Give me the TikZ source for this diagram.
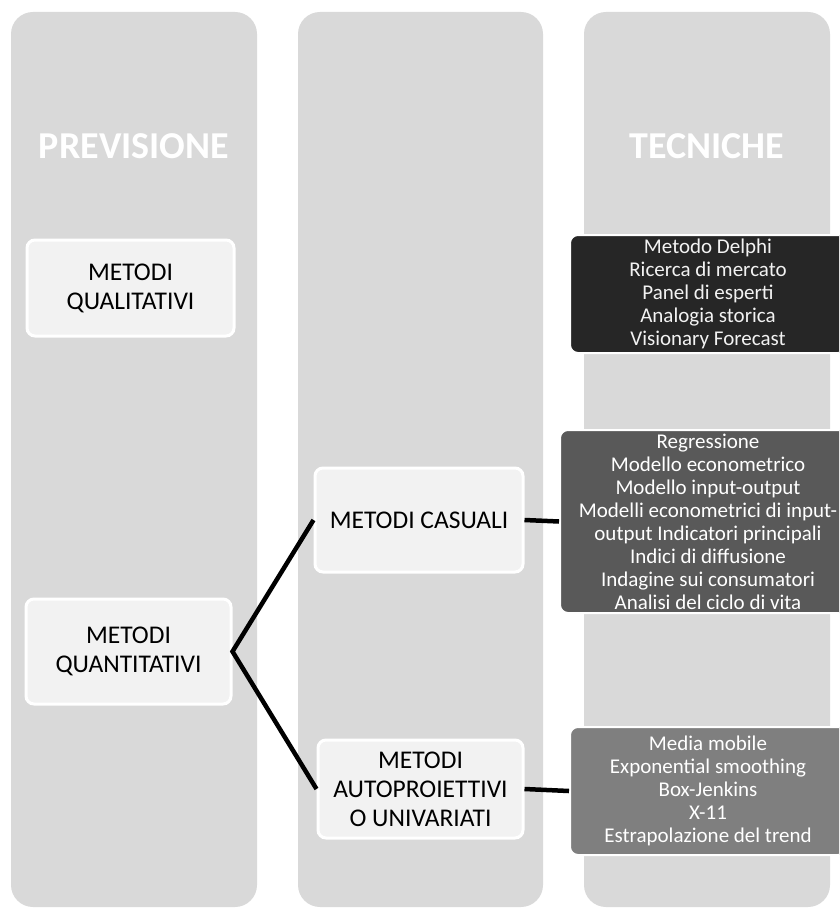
\documentclass[tikz,border=0pt]{standalone}
\usepackage{fontspec}
\setmainfont{Carlito}
\usetikzlibrary{positioning}
\definecolor{colgray}{HTML}{D9D9D9}
\definecolor{boxgray}{HTML}{F2F2F2}
\definecolor{tecdark}{HTML}{262626}
\definecolor{tecmid}{HTML}{595959}
\definecolor{teclight}{HTML}{7F7F7F}
\tikzstyle{column}=[fill=colgray, rounded corners=22pt]
\tikzstyle{title}=[text=white, font=\fontsize{38}{42}\selectfont\bfseries]
\tikzstyle{metodo}=[rectangle, rounded corners=8pt, draw=white, line width=3pt, fill=boxgray, text=black, align=center, inner sep=2pt, font=\fontsize{25.5}{29}\selectfont]
\tikzstyle{tecnica}=[rectangle, rounded corners=8pt, draw=white, line width=2pt, text=white, align=center, inner sep=0pt, font=\fontsize{21}{23}\selectfont]
\tikzstyle{link}=[line width=4.5pt, draw=black]

\begin{document}
\begin{tikzpicture}[x=1pt, y=-1pt]
  \useasboundingbox (0,0) rectangle (839,909);
  \clip (0,0) rectangle (839,909);

  % three columns
  \fill [column] (11,12) rectangle (257,907);
  \fill [column] (298,12) rectangle (543,907);
  \fill [column] (584,12) rectangle (830,907);

  \node [title] at (134,146) (previsione) {PREVISIONE};
  \node [title] at (707,146) (tecniche) {TECNICHE};

  \node [metodo, minimum width=207pt, minimum height=96pt] at (130.5,288) (qual) {METODI\\QUALITATIVI};
  \node [metodo, minimum width=205pt, minimum height=105pt] at (128.5,651.5) (quant) {METODI\\QUANTITATIVI};
  \node [metodo, minimum width=208pt, minimum height=104pt] at (419,520) (casuali) {METODI CASUALI};
  \node [metodo, minimum width=205pt, minimum height=98pt] at (420.5,789) (autoproj) {METODI\\AUTOPROIETTIVI\\O UNIVARIATI};

  \node [tecnica, fill=tecdark, text=boxgray, minimum width=276pt, minimum height=118pt] at (708,294) (delphi)
    {Metodo Delphi\\Ricerca di mercato\\Panel di esperti\\Analogia storica\\Visionary Forecast};
  \node [tecnica, fill=tecmid, minimum width=296pt, minimum height=183pt] at (708,521.5) (regressione)
    {Regressione\\Modello econometrico\\Modello input-output\\Modelli econometrici di input-\\output Indicatori principali\\Indici di diffusione\\Indagine sui consumatori\\Analisi del ciclo di vita};
  \node [tecnica, fill=teclight, minimum width=276pt, minimum height=128pt] at (708,791) (mobile)
    {Media mobile\\Exponential smoothing\\Box-Jenkins\\X-11\\Estrapolazione del trend};

  \draw [link] (casuali.west) -- (quant.east) -- (autoproj.west);
  \draw [link] (casuali.east) -- (regressione.west);
  \draw [link] (autoproj.east) -- (mobile.west);
\end{tikzpicture}
\end{document}
